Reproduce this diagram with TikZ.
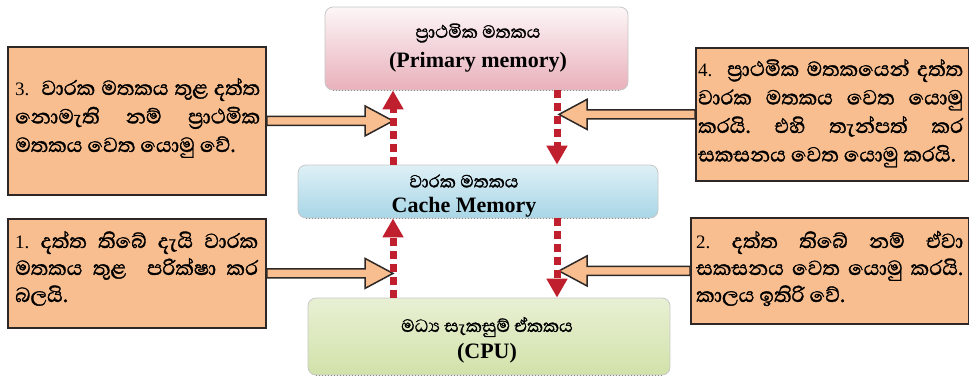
\documentclass[tikz,border=0pt]{standalone}
\usepackage{fontspec}
\setmainfont{Liberation Serif}
\newfontfamily\sinhalafont[Script=Sinhala, FakeBold=1.3]{Abhaya Libre}
\usetikzlibrary{arrows.meta,calc}
\definecolor{peach}{RGB}{248,190,143}
\definecolor{boxline}{RGB}{45,40,38}
\definecolor{dred}{RGB}{192,32,45}
\hbadness=10000
\frenchspacing
\newcommand{\numlab}[1]{{\rmfamily\mdseries\fontsize{19}{19}\selectfont #1}}
\newcommand{\blockarrow}[3]{%
  \draw[blockar] ($(#1)+(0,-4.5)$) -- ($(#2)+({-(#3)*28},-4.5)$) -- ($(#2)+({-(#3)*28},-15)$) -- (#2)
   -- ($(#2)+({-(#3)*28},15)$) -- ($(#2)+({-(#3)*28},4.5)$) -- ($(#1)+(0,4.5)$) -- cycle;}
\begin{document}
\begin{tikzpicture}[x=1pt,y=-1pt,
  notebox/.style={draw=boxline, line width=1.8pt, fill=peach, inner sep=0pt, anchor=north west},
  notetext/.style={anchor=base west, text width=#1, align=justify, inner sep=0pt,
     font=\sinhalafont\fontsize{26}{28.5}\selectfont},
  shortskip/.style={font=\sinhalafont\fontsize{26}{27}\selectfont},
  membox/.style={rounded corners=8pt, draw=black!22, line width=0.8pt, inner sep=0pt},
  sitext/.style={inner sep=0pt, font=\sinhalafont\fontsize{22.5}{24}\selectfont},
  entext/.style={inner sep=0pt, font=\bfseries\fontsize{22}{26}\selectfont},
  dashar/.style={draw=dred, line width=7pt, dash pattern=on 8pt off 5pt,
     -{Triangle[length=19pt,width=20pt]}},
  blockar/.style={draw=boxline, line width=1.5pt, fill=peach, line join=miter}]
\useasboundingbox (0,0) rectangle (969,384);
% central boxes
\node[membox, minimum width=303pt, minimum height=83pt,
      top color={rgb,255:red,252;green,246;blue,247}, bottom color={rgb,255:red,233;green,176;blue,187}]
      (prim) at (476.5,48.5) {};
\node[membox, minimum width=360pt, minimum height=53pt,
      top color={rgb,255:red,222;green,240;blue,246}, bottom color={rgb,255:red,168;green,214;blue,230}]
      (cache) at (478,191.5) {};
\node[membox, minimum width=362pt, minimum height=77pt,
      top color={rgb,255:red,232;green,240;blue,212}, bottom color={rgb,255:red,210;green,226;blue,170}]
      (cpu) at (489,336.5) {};
\foreach \b in {prim,cache,cpu}
  \draw[black!45, dotted, line width=1pt] ($(\b.south west)+(8,0)$) -- ($(\b.south east)+(-8,0)$);
% note boxes
\node[notebox, minimum width=258pt, minimum height=148pt] (b3) at (7,46) {};
\node[notebox, minimum width=258pt, minimum height=109pt] (b1) at (7,218) {};
\node[notebox, minimum width=273pt, minimum height=133pt] (b4) at (695,47) {};
\node[notebox, minimum width=278pt, minimum height=106pt] (b2) at (690,217) {};
% connector guides
\coordinate (xl) at (393,0);
\coordinate (xr) at (557,0);
\coordinate (t3) at (xl |- b3.east);
\coordinate (t1) at (xl |- b1.east);
\coordinate (t4) at ($(xr |- b4.west)+(2,0)$);
\coordinate (t2) at ($(xr |- b2.west)+(2,0)$);
% block arrows
\blockarrow{b3.east}{t3}{1}
\blockarrow{b1.east}{t1}{1}
\blockarrow{b4.west}{t4}{-1}
\blockarrow{b2.west}{t2}{-1}
% dashed arrows
\draw[dashar] (xl |- cache.north) -- (xl |- prim.south);
\draw[dashar] (xr |- prim.south) -- (xr |- cache.north);
\draw[dashar] (xl |- cpu.north) -- (xl |- cache.south);
\draw[dashar] (xr |- cache.south) -- (xr |- cpu.north);
% central texts
\node[sitext] (primS) at (478,33) {ප්^^^^200dරාථමික මතකය};
\node[entext] (primE) at (478,62) {(Primary memory)};
\node[sitext] (cacheS) at (464,181) {වාරක මතකය};
\node[entext] (cacheE) at (464,207) {Cache Memory};
\node[sitext] (cpuS) at (487,327) {මධ්^^^^200dය සැකසුම් ඒකකය};
\node[entext] (cpuE) at (487,353) {(CPU)};
% note texts
\node[notetext=245pt] (b3t) at (15,95) {\numlab{3.}\ \ වාරක මතකය තුළ දත්ත\linebreak නොමැති නම් ප්^^^^200dරාථමික\linebreak මතකය වෙත යොමු වේ.};
\node[notetext=243pt, shortskip] (b1t) at (15,248) {\numlab{1.} දත්ත තිබේ දැයි වාරක\linebreak මතකය තුළ\ \ පරික්ෂා කර\linebreak බලයි.};
\node[notetext=265pt] (b4t) at (698,76) {\numlab{4.}\ \ ප්^^^^200dරාථමික මතකයෙන් දත්ත\linebreak වාරක මතකය වෙත යොමු\linebreak කරයි. එහි තැන්පත් කර\linebreak සකසනය වෙත යොමු කරයි.};
\node[notetext=267pt, shortskip] (b2t) at (696,248) {\numlab{2.} දත්ත තිබේ නම් ඒවා\linebreak සකසනය වෙත යොමු කරයි.\linebreak කාලය ඉතිරි වේ.};
\end{tikzpicture}
\end{document}
